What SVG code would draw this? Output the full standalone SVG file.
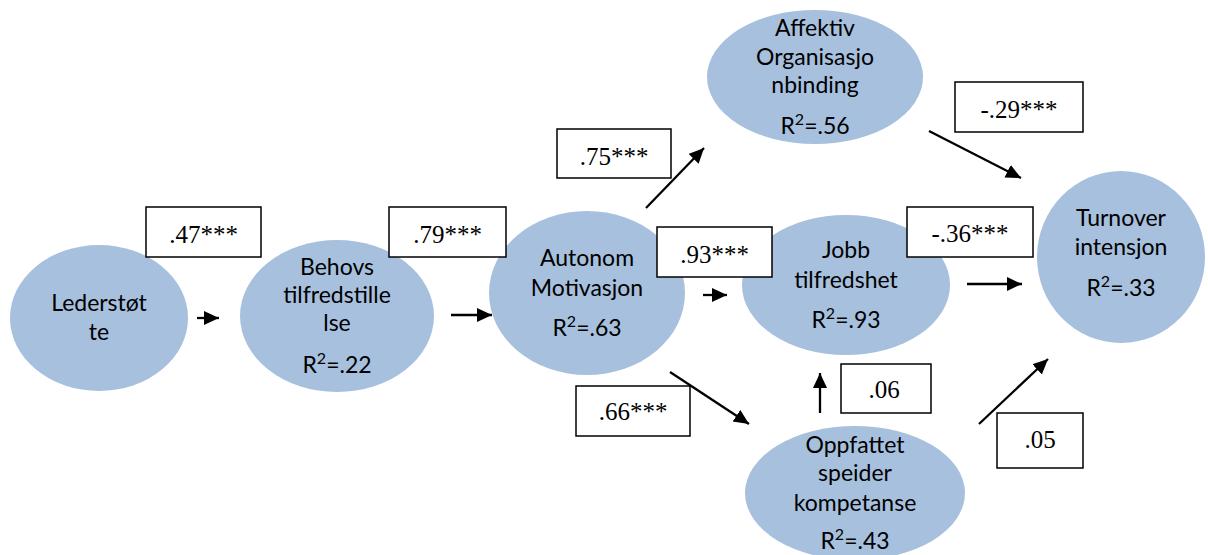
<svg xmlns="http://www.w3.org/2000/svg" width="1208" height="555" viewBox="0 0 1208 555">
  <style>
    .node ellipse { fill: #A7C0DE; stroke: none; }
    .node text { font-family: "Lato", "Liberation Sans", sans-serif; font-size: 23px; fill: #000; text-anchor: middle; }
    .sup { font-size: 16px; }
    .coef rect { fill: #fff; stroke: #000; stroke-width: 1.5; }
    .coef text { font-family: "Liberation Serif", "Times New Roman", serif; font-size: 25px; fill: #000; text-anchor: middle; }
    .edges line { stroke: #000; stroke-width: 2.3; marker-end: url(#head); }
  </style>
  <defs>
    <marker id="head" markerUnits="userSpaceOnUse" markerWidth="16" markerHeight="15" refX="15" refY="7" orient="auto">
      <path d="M0,0 L15,7 L0,14 Z" fill="#000"/>
    </marker>
  </defs>
  <rect width="1208" height="555" fill="#fff"/>

  <!-- latent variables -->
  <g id="lederstotte" class="node">
    <ellipse cx="99" cy="318" rx="89" ry="73"/>
    <text x="99" y="311">Lederstøt</text>
    <text x="99" y="340">te</text>
  </g>
  <g id="behovs" class="node">
    <ellipse cx="337" cy="316" rx="97" ry="76"/>
    <text x="337" y="275">Behovs</text>
    <text x="337" y="303">tilfredstille</text>
    <text x="337" y="331">lse</text>
    <text x="337" y="373">R<tspan class="sup" baseline-shift="super">2</tspan>=.22</text>
  </g>
  <g id="autonom" class="node">
    <ellipse cx="587" cy="293" rx="98" ry="82"/>
    <text x="587" y="266">Autonom</text>
    <text x="587" y="296">Motivasjon</text>
    <text x="587" y="336">R<tspan class="sup" baseline-shift="super">2</tspan>=.63</text>
  </g>
  <g id="affektiv" class="node">
    <ellipse cx="815" cy="77" rx="108" ry="67"/>
    <text x="815" y="36">Affektiv</text>
    <text x="815" y="65">Organisasjo</text>
    <text x="815" y="93">nbinding</text>
    <text x="815" y="134">R<tspan class="sup" baseline-shift="super">2</tspan>=.56</text>
  </g>
  <g id="jobb" class="node">
    <ellipse cx="846" cy="285" rx="104" ry="70"/>
    <text x="846" y="258">Jobb</text>
    <text x="846" y="288">tilfredshet</text>
    <text x="846" y="328">R<tspan class="sup" baseline-shift="super">2</tspan>=.93</text>
  </g>
  <g id="turnover" class="node">
    <ellipse cx="1121" cy="257" rx="84" ry="86"/>
    <text x="1121" y="226">Turnover</text>
    <text x="1121" y="255">intensjon</text>
    <text x="1121" y="296">R<tspan class="sup" baseline-shift="super">2</tspan>=.33</text>
  </g>
  <g id="oppfattet" class="node">
    <ellipse cx="855" cy="493" rx="110" ry="67"/>
    <text x="855" y="453">Oppfattet</text>
    <text x="855" y="481">speider</text>
    <text x="855" y="511">kompetanse</text>
    <text x="855" y="549">R<tspan class="sup" baseline-shift="super">2</tspan>=.43</text>
  </g>

  <!-- path coefficients -->
  <g id="coefficients" class="coef">
    <rect x="146" y="207" width="115" height="50"/>
    <text x="203.5" y="243">.47***</text>
    <rect x="389" y="207" width="117" height="50"/>
    <text x="447.5" y="243">.79***</text>
    <rect x="557" y="129" width="114" height="49"/>
    <text x="614" y="165">.75***</text>
    <rect x="657" y="227" width="115" height="50"/>
    <text x="714.5" y="263">.93***</text>
    <rect x="907" y="207" width="126" height="50"/>
    <text x="970" y="242">-.36***</text>
    <rect x="955" y="82" width="128" height="50"/>
    <text x="1019" y="118">-.29***</text>
    <rect x="841" y="364" width="90" height="49"/>
    <text x="884" y="398">.06</text>
    <rect x="576" y="386" width="114" height="50"/>
    <text x="633" y="420">.66***</text>
    <rect x="997" y="413" width="86" height="55"/>
    <text x="1040" y="448">.05</text>
  </g>

  <!-- connectors -->
  <g id="connectors" class="edges">
    <line x1="197" y1="318" x2="219" y2="318"/>
    <line x1="451" y1="315" x2="492" y2="315"/>
    <line x1="646" y1="208" x2="704" y2="148"/>
    <line x1="703" y1="295" x2="727" y2="295"/>
    <line x1="670" y1="372" x2="749" y2="424"/>
    <line x1="929" y1="131" x2="1021" y2="178"/>
    <line x1="967" y1="284" x2="1022" y2="284"/>
    <line x1="820" y1="413" x2="820" y2="373"/>
    <line x1="979" y1="424" x2="1048" y2="359"/>
  </g>
</svg>
